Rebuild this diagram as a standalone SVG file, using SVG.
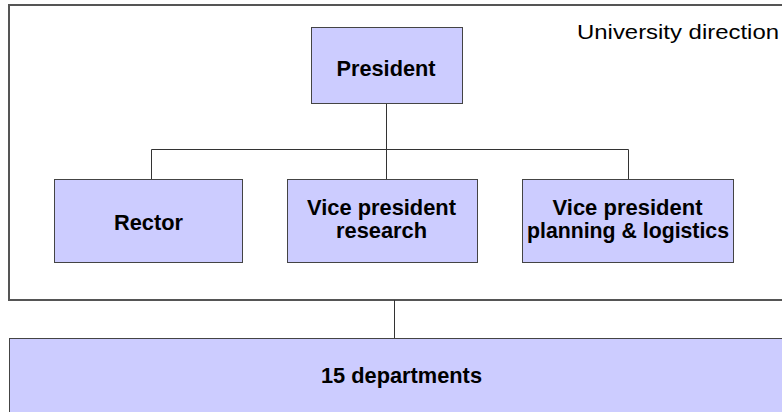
<svg xmlns="http://www.w3.org/2000/svg" width="782" height="412" viewBox="0 0 782 412">
<style>
.box{fill:#ccccff;stroke:#444;stroke-width:1}
.frame{fill:#fff;stroke:#555;stroke-width:2}
.conn{fill:none;stroke:#333;stroke-width:1}
text{font-family:"Liberation Sans",Arial,sans-serif;font-weight:bold;font-size:22px;fill:#000;text-anchor:middle}
.title{font-weight:normal;font-size:20px}
</style>
<rect width="782" height="412" fill="#fff"/>
<g id="university-direction">
<rect class="frame" x="9" y="5" width="790" height="295"/>
<text class="title" x="678" y="39" textLength="202" lengthAdjust="spacingAndGlyphs">University direction</text>
</g>
<g id="connectors">
<path class="conn" d="M386.5 103V149.5M151.5 149.5H628.5M151.5 149.5V179M386.5 149.5V179M628.5 149.5V179"/>
<path class="conn" d="M394.5 300V338"/>
</g>
<g id="president">
<rect class="box" x="311.5" y="27.5" width="151" height="76"/>
<text x="386" y="76" textLength="99" lengthAdjust="spacingAndGlyphs">President</text>
</g>
<g id="rector">
<rect class="box" x="54.5" y="179.5" width="188" height="83"/>
<text x="148.5" y="230" textLength="69" lengthAdjust="spacingAndGlyphs">Rector</text>
</g>
<g id="vp-research">
<rect class="box" x="287.5" y="179.5" width="190" height="83"/>
<text x="381.5" y="215" textLength="149" lengthAdjust="spacingAndGlyphs">Vice president</text>
<text x="381.5" y="238" textLength="91" lengthAdjust="spacingAndGlyphs">research</text>
</g>
<g id="vp-planning">
<rect class="box" x="522.5" y="179.5" width="211" height="83"/>
<text x="627.5" y="215" textLength="150" lengthAdjust="spacingAndGlyphs">Vice president</text>
<text x="628" y="238" textLength="202" lengthAdjust="spacingAndGlyphs">planning &amp; logistics</text>
</g>
<g id="departments">
<rect class="box" x="9.5" y="338.5" width="790" height="90"/>
<text x="401.5" y="383" textLength="161" lengthAdjust="spacingAndGlyphs">15 departments</text>
</g>
</svg>
